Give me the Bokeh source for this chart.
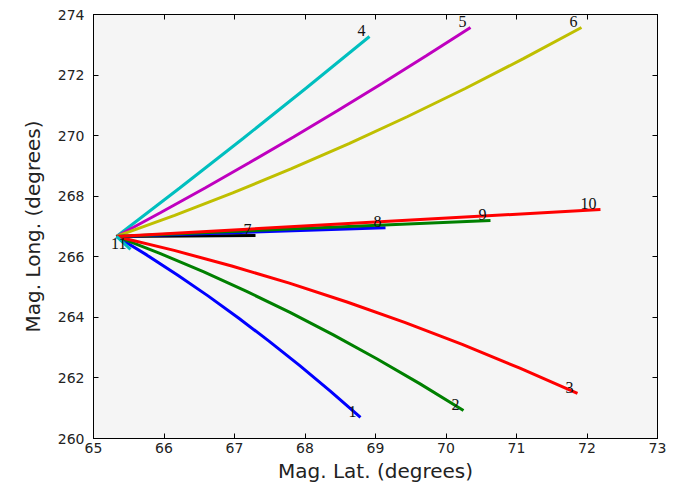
from bokeh.plotting import figure
from bokeh.models import Range1d, FixedTicker, LinearAxis, ColumnDataSource, CustomJSTickFormatter
from bokeh.core.properties import value
from bokeh.embed import file_html
from bokeh.resources import INLINE

# ---- data ----
lat1 = [65.326, 65.759, 66.191, 66.624, 67.057, 67.489, 67.922, 68.355, 68.787]
lon1 = [266.671, 266.054, 265.400, 264.709, 263.980, 263.215, 262.412, 261.572, 260.695]
lat2 = [65.326, 65.941, 66.557, 67.172, 67.787, 68.402, 69.018, 69.633, 70.248]
lon2 = [266.671, 266.112, 265.507, 264.857, 264.162, 263.421, 262.635, 261.803, 260.926]
lat3 = [65.326, 66.144, 66.961, 67.778, 68.596, 69.413, 70.230, 71.048, 71.865]
lon3 = [266.671, 266.211, 265.697, 265.129, 264.508, 263.834, 263.105, 262.323, 261.488]
lat4 = [65.326, 66.223, 67.121, 68.018, 68.915]
lon4 = [266.671, 268.272, 269.906, 271.573, 273.274]
lat5 = [65.326, 65.954, 66.582, 67.209, 67.837, 68.465, 69.092, 69.720, 70.348]
lon5 = [266.671, 267.461, 268.272, 269.104, 269.956, 270.829, 271.722, 272.636, 273.571]
lat6 = [65.326, 66.151, 66.975, 67.800, 68.624, 69.449, 70.273, 71.098, 71.922]
lon6 = [266.671, 267.366, 268.107, 268.899, 269.738, 270.624, 271.557, 272.541, 273.571]
lat7 = [65.326, 67.298]
lon7 = [266.671, 266.704]
lat8 = [65.326, 69.142]
lon8 = [266.671, 266.958]
lat9 = [65.326, 70.631]
lon9 = [266.671, 267.199]
lat10 = [65.326, 72.191]
lon10 = [266.671, 267.562]
lat11 = [65.326, 65.525]
lon11 = [266.671, 266.242]

labels = ["1", "2", "3", "4", "5", "6", "7", "8", "9", "10", "11"]
colors = ["#0000ff", "#008000", "#ff0000", "#00bfbf", "#bf00bf", "#bfbf00",
          "#000000", "#0000ff", "#008000", "#ff0000", "#00bfbf"]

x_ticks = [65, 66, 67, 68, 69, 70, 71, 72, 73]
y_ticks = [260, 262, 264, 266, 268, 270, 272, 274]

lats = [lat1, lat2, lat3, lat4, lat5, lat6, lat7, lat8, lat9, lat10, lat11]
lons = [lon1, lon2, lon3, lon4, lon5, lon6, lon7, lon8, lon9, lon10, lon11]

p = figure(width=677, height=488, output_backend="svg", toolbar_location=None,
           x_range=Range1d(x_ticks[0], x_ticks[-1]), y_range=Range1d(y_ticks[0], y_ticks[-1]),
           min_border_left=93, min_border_right=20, min_border_top=14, min_border_bottom=50,
           x_axis_label="Mag. Lat. (degrees)", y_axis_label="Mag. Long. (degrees)")
p.background_fill_color = "#f5f5f5"
p.border_fill_color = "white"
p.outline_line_color = "black"
p.outline_line_width = 1
p.xgrid.visible = False
p.ygrid.visible = False

p.xaxis.ticker = FixedTicker(ticks=x_ticks)
p.yaxis.ticker = FixedTicker(ticks=y_ticks)

for ax in [p.xaxis[0], p.yaxis[0]]:
    ax.major_tick_in = 5
    ax.major_tick_out = 0
    ax.minor_tick_line_color = None
    ax.axis_line_color = "black"
    ax.major_tick_line_color = "black"
    ax.major_label_text_font = "DejaVu Sans"
    ax.major_label_text_font_size = "14px"
    ax.major_label_text_color = "#222222"
    ax.axis_label_text_font = "DejaVu Sans"
    ax.axis_label_text_font_size = "20px"
    ax.axis_label_text_font_style = "normal"
    ax.axis_label_text_color = "#222222"
p.xaxis.major_label_standoff = 4
p.yaxis.major_label_standoff = 9
p.xaxis.axis_label_standoff = 3
p.yaxis.axis_label_standoff = 10

blank = CustomJSTickFormatter(code="return '';")
top = LinearAxis(ticker=FixedTicker(ticks=x_ticks), formatter=blank,
                 major_tick_in=5, major_tick_out=0, minor_tick_line_color=None,
                 major_label_standoff=0)
right = LinearAxis(ticker=FixedTicker(ticks=y_ticks), formatter=blank,
                   major_tick_in=5, major_tick_out=0, minor_tick_line_color=None,
                   major_label_standoff=0)
p.add_layout(top, "above")
p.add_layout(right, "right")

for xs, ys, c in zip(lats, lons, colors):
    p.line(xs, ys, line_color=c, line_width=3)

end_x = [xs[-1] for xs in lats]
end_y = [ys[-1] for ys in lons]
src = ColumnDataSource(dict(x=end_x, y=end_y, t=labels))
p.text(x="x", y="y", text="t", source=src, text_align="right", text_baseline="alphabetic",
       x_offset=-4, y_offset=-6, text_font=value("Liberation Serif"),
       text_font_size="16px", text_color="#111111")

open("out.html", "w").write(file_html(p, INLINE))
